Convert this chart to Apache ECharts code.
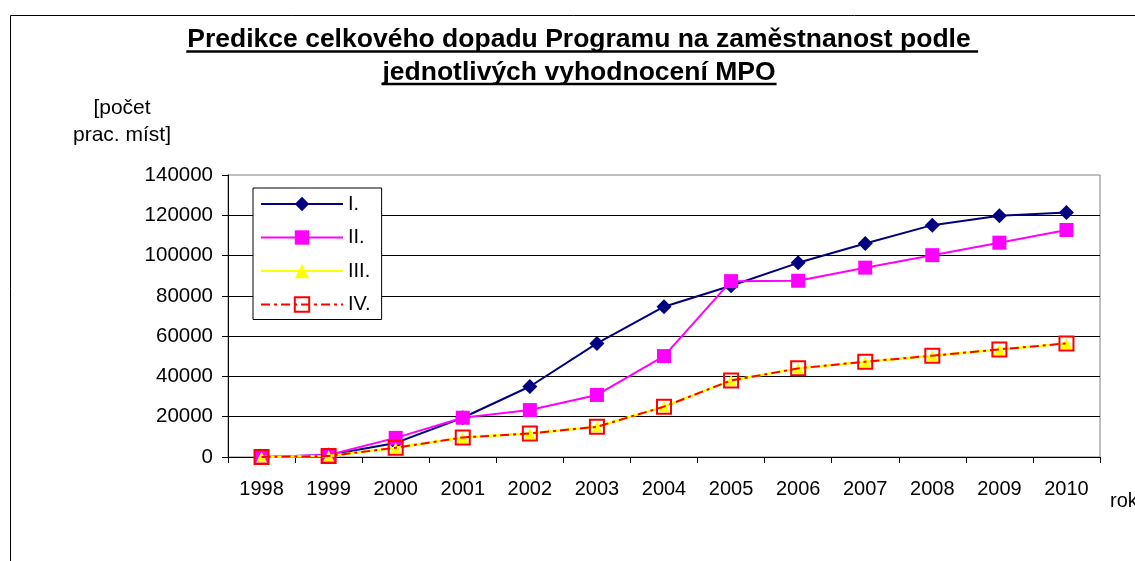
<!DOCTYPE html>
<html>
<head>
<meta charset="utf-8">
<script src="https://cdn.jsdelivr.net/npm/echarts@6/dist/echarts.min.js"></script>
<style>
html,body{margin:0;padding:0;background:#fff;}
#chart{width:1135px;height:561px;}
</style>
</head>
<body>
<div id="chart"></div>
<script>
// ---- data ----
const years = ['1998','1999','2000','2001','2002','2003','2004','2005','2006','2007','2008','2009','2010'];
const seriesI   = [0, 1000, 7000, 19500, 35000, 56400, 74600, 85000, 96400, 106000, 115100, 119800, 121400];
const seriesII  = [0, 1000, 9500, 19500, 23300, 30800, 50100, 87300, 87500, 94000, 100200, 106400, 112700];
const seriesIII = [0, 500, 4600, 9700, 11700, 15000, 25000, 38000, 44000, 47300, 50300, 53400, 56400];
const seriesIV  = [0, 500, 4600, 9700, 11700, 15000, 25000, 38000, 44000, 47300, 50300, 53400, 56400];
const seriesNames = ['I.', 'II.', 'III.', 'IV.'];
const yTicks = [0, 20000, 40000, 60000, 80000, 100000, 120000, 140000];
const titleLine1 = 'Predikce celkového dopadu Programu na zaměstnanost podle';
const titleLine2 = 'jednotlivých vyhodnocení MPO';
const yAxisTitle = '[počet\nprac. míst]';
const xAxisTitle = 'rok';

// ---- layout helpers ----
const FONT = '"Liberation Sans", Arial, sans-serif';
const ctx = document.createElement('canvas').getContext('2d');
function measure(text, size, weight) {
  ctx.font = (weight || 'normal') + ' ' + size + 'px ' + FONT;
  return ctx.measureText(text).width;
}
const titleSize = 26.5;
const cx = 579;
const w1 = measure(titleLine1, titleSize, 'bold');
const sp = measure(' ', titleSize, 'bold');
const w2 = measure(titleLine2, titleSize, 'bold');

const chart = echarts.init(document.getElementById('chart'), null, {renderer: 'canvas'});
chart.setOption({
  animation: false,
  backgroundColor: '#fff',
  textStyle: {fontFamily: FONT},
  grid: {left: 228, right: 35, top: 175, bottom: 104, show: true, borderColor: '#808080', borderWidth: 1, containLabel: false},
  legend: {
    orient: 'vertical',
    left: 253, top: 188,
    padding: [6, 11, 5, 7],
    itemWidth: 82, itemHeight: 18, itemGap: 13.5,
    borderColor: '#000', borderWidth: 1,
    backgroundColor: '#fff',
    textStyle: {fontSize: 20, color: '#000', fontFamily: FONT},
    data: seriesNames
  },
  xAxis: {
    type: 'category',
    data: years,
    boundaryGap: true,
    axisLine: {lineStyle: {color: '#000', width: 1}},
    axisTick: {show: true, length: 6, lineStyle: {color: '#000'}},
    axisLabel: {fontSize: 20, color: '#000', margin: 22, fontFamily: FONT},
    splitLine: {show: false}
  },
  yAxis: {
    type: 'value',
    min: 0, max: 140000, interval: 20000,
    axisLine: {show: true, lineStyle: {color: '#000', width: 1}},
    axisTick: {show: true, length: 6, lineStyle: {color: '#000'}},
    axisLabel: {fontSize: 20.5, color: '#000', margin: 15, fontFamily: FONT,
      formatter: v => yTicks.indexOf(v) >= 0 ? String(v) : ''},
    splitLine: {show: true, showMaxLine: false, lineStyle: {color: '#000', width: 1}}
  },
  series: [
    {name: seriesNames[0], type: 'line', data: seriesI, symbol: 'diamond', symbolSize: 15,
     lineStyle: {color: '#000080', width: 2}, itemStyle: {color: '#000080'}, z: 2},
    {name: seriesNames[1], type: 'line', data: seriesII, symbol: 'rect', symbolSize: 14,
     lineStyle: {color: '#FF00FF', width: 2}, itemStyle: {color: '#FF00FF'}, z: 3},
    {name: seriesNames[2], type: 'line', data: seriesIII, symbol: 'triangle', symbolSize: 11,
     lineStyle: {color: '#FFFF00', width: 2.5}, itemStyle: {color: '#FFFF00'}, z: 4},
    {name: seriesNames[3], type: 'line', data: seriesIV, symbol: 'rect', symbolSize: 14,
     lineStyle: {color: '#FF0000', width: 2, type: [9, 4, 3, 4]},
     itemStyle: {color: 'rgba(255,255,255,0)', borderColor: '#FF0000', borderWidth: 2}, z: 5}
  ],
  graphic: [
    {type: 'rect', silent: true, shape: {x: 10.5, y: 15.5, width: 1300, height: 700},
     style: {fill: 'none', stroke: '#000', lineWidth: 1}, z: -10},
    {type: 'text', silent: true, style: {x: cx, y: 39.5, text: titleLine1, textAlign: 'center', textVerticalAlign: 'middle',
      font: 'bold ' + titleSize + 'px ' + FONT, fill: '#000'}},
    {type: 'line', silent: true, shape: {x1: cx - w1 / 2 - 1, y1: 51.5, x2: cx + w1 / 2 + sp, y2: 51.5},
     style: {stroke: '#000', lineWidth: 2.5}},
    {type: 'text', silent: true, style: {x: cx, y: 72.5, text: titleLine2, textAlign: 'center', textVerticalAlign: 'middle',
      font: 'bold ' + titleSize + 'px ' + FONT, fill: '#000'}},
    {type: 'line', silent: true, shape: {x1: cx - w2 / 2 - 1, y1: 84, x2: cx + w2 / 2 + 1, y2: 84},
     style: {stroke: '#000', lineWidth: 2.5}},
    {type: 'text', silent: true, style: {x: 122, y: 122, text: yAxisTitle, textAlign: 'center', textVerticalAlign: 'middle',
      font: '21px ' + FONT, fill: '#000', lineHeight: 27}},
    {type: 'text', silent: true, style: {x: 1110, y: 501, text: xAxisTitle, textAlign: 'left', textVerticalAlign: 'middle',
      font: '20px ' + FONT, fill: '#000'}}
  ]
});
</script>
</body>
</html>
